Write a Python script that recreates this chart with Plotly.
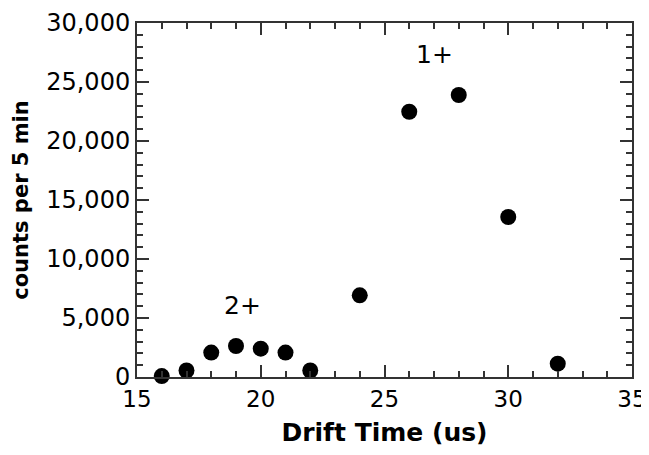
import plotly.graph_objects as go

drift_time = [16, 17, 18, 19, 20, 21, 22, 24, 26, 28, 30, 32]
counts = [80, 550, 2070, 2630, 2400, 2070, 550, 6920, 22480, 23900, 13560, 1130]

label_text = ["2+", "1+"]
label_x = [19.25, 27.0]
label_y = [6050, 27350]

x_ticks = [15, 20, 25, 30, 35]
y_ticks = [0, 5000, 10000, 15000, 20000, 25000, 30000]
y_tick_text = ["0", "5,000", "10,000", "15,000", "20,000", "25,000", "30,000"]

FONT = "DejaVu Sans"

fig = go.Figure()
fig.add_trace(go.Scatter(
    x=drift_time, y=counts, mode="markers",
    marker=dict(color="black", size=16, symbol="circle"),
    showlegend=False, cliponaxis=False,
))

for t, x, y in zip(label_text, label_x, label_y):
    fig.add_annotation(x=x, y=y, text=t, showarrow=False,
                       font=dict(family=FONT, size=25, color="black"))

axis_common = dict(
    showline=True, linecolor="#333", linewidth=2, mirror="ticks",
    ticks="inside", ticklen=12, tickwidth=1.5, tickcolor="#333",
    showgrid=False, zeroline=False, automargin=False,
)

fig.update_xaxes(
    range=[15, 35], tickvals=x_ticks,
    tickfont=dict(family=FONT, size=23, color="black"),
    minor=dict(dtick=1, ticks="inside", ticklen=6, tickwidth=1.5, tickcolor="#333"),
    title=dict(text="<b>Drift Time (us)</b>", font=dict(family=FONT, size=25, color="black"), standoff=18),
    **axis_common,
)
fig.update_yaxes(
    range=[0, 30000], tickvals=y_ticks, ticktext=y_tick_text,
    tickfont=dict(family=FONT, size=24, color="black"),
    minor=dict(dtick=1000, ticks="inside", ticklen=6, tickwidth=1.5, tickcolor="#333"),
    title=dict(text="<b>counts per 5 min</b>", font=dict(family=FONT, size=21, color="black"), standoff=12),
    **axis_common,
)

fig.update_layout(
    width=641, height=439,
    margin=dict(l=129, r=17, t=15, b=70),
    plot_bgcolor="white", paper_bgcolor="white",
)

fig.write_html("out.html")
